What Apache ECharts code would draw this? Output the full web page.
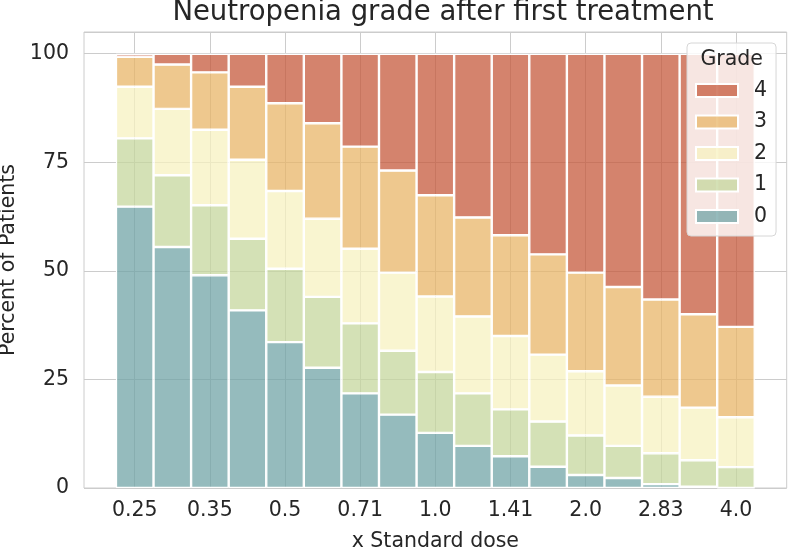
<!DOCTYPE html>
<html>
<head>
<meta charset="utf-8">
<script src="https://cdn.jsdelivr.net/npm/echarts@6/dist/echarts.min.js"></script>
<style>html,body{margin:0;padding:0;background:#fff}#c{width:788px;height:548px}</style>
</head>
<body>
<div id="c"></div>
<script>
// dose bins (x Standard dose)
const categories = ['0.25','0.3','0.35','0.42','0.5','0.59','0.71','0.84','1.0','1.19','1.41','1.68','2.0','2.38','2.83','3.36','4.0'];
const tickLabels = ['0.25','0.35','0.5','0.71','1.0','1.41','2.0','2.83','4.0'];
const grades = ['0','1','2','3','4'];
// percent of patients per grade in each bin
const grade0 = [64.8,55.5,49.0,40.9,33.6,27.7,21.8,16.9,12.7,9.7,7.3,4.9,3.0,2.3,0.9,0.3,0];
const grade1 = [15.7,16.5,16.1,16.5,16.9,16.3,16.1,14.7,14.0,12.1,10.8,10.4,9.1,7.4,7.1,6.1,4.8];
const grade2 = [11.9,15.3,17.4,18.2,17.9,18.0,17.2,18.0,17.4,17.7,16.9,15.4,14.8,13.9,13.0,12.1,11.5];
const grade3 = [6.9,10.2,13.2,16.8,20.2,22.0,23.5,23.5,23.3,22.8,23.2,23.1,22.7,22.7,22.4,21.5,20.8];
const grade4 = [0.7,2.5,4.3,7.6,11.4,16.0,21.4,26.9,32.6,37.7,41.8,46.2,50.4,53.7,56.6,60.0,62.9];

const gradeData = [grade0, grade1, grade2, grade3, grade4];
const colors = ['rgba(114,164,167,0.75)','rgba(198,215,158,0.75)','rgba(247,242,192,0.75)','rgba(232,182,104,0.75)','rgba(198,90,60,0.75)'];
const tickPositions = tickLabels.map(t => categories.indexOf(t));
const FONT = 'DejaVu Sans';
const TXT = '#262626';
const FS = 20.5;

const chart = echarts.init(document.getElementById('c'));
chart.setOption({
  animation: false,
  textStyle: {fontFamily: FONT},
  title: {
    text: 'Neutropenia grade after first treatment',
    left: 438, textAlign: 'center', top: -6,
    textStyle: {fontFamily: FONT, fontSize: 27.5, fontWeight: 'normal', color: TXT}
  },
  grid: {left: 84, top: 32, right: 1.3, bottom: 60, outerBoundsMode: 'none', containLabel: false,
    show: true, borderColor: '#cccccc', borderWidth: 1, backgroundColor: 'transparent'},
  xAxis: {
    type: 'value', min: -1.35, max: 17.35,
    name: 'x Standard dose', nameLocation: 'middle', nameGap: 43,
    nameTextStyle: {fontFamily: FONT, fontSize: FS, color: TXT},
    axisLine: {show: false},
    axisTick: {show: false, customValues: tickPositions},
    axisLabel: {customValues: tickPositions, margin: 12, fontFamily: FONT, fontSize: FS, color: TXT,
      formatter: v => categories[Math.round(v)]},
    splitLine: {show: true, lineStyle: {color: '#cccccc', width: 1}}
  },
  yAxis: {
    type: 'value', min: 0, max: 105, interval: 25,
    name: 'Percent of Patients', nameLocation: 'middle', nameGap: 62,
    nameTextStyle: {fontFamily: FONT, fontSize: FS, color: TXT},
    axisLine: {show: false}, axisTick: {show: false},
    axisLabel: {showMaxLabel: false, margin: 15, fontFamily: FONT, fontSize: FS, color: TXT},
    splitLine: {show: true, lineStyle: {color: '#cccccc', width: 1}}
  },
  legend: {
    orient: 'vertical', left: 687, top: 43,
    data: ['4','3','2','1','0'],
    itemWidth: 42, itemHeight: 13, itemGap: 10.5, icon: 'rect',
    padding: [37, 9, 9, 8],
    backgroundColor: 'rgba(255,255,255,0.8)', borderColor: '#d6d6d6', borderWidth: 1, borderRadius: 4,
    textStyle: {fontFamily: FONT, fontSize: FS, color: TXT, padding: [0, 0, 0, 11]}
  },
  graphic: [{
    type: 'text', z: 100, x: 731.7, y: 60,
    style: {text: 'Grade', fontFamily: FONT, fontSize: FS, fill: TXT, align: 'center', verticalAlign: 'middle'}
  }],
  series: grades.map((g, k) => ({
    name: g, type: 'bar', stack: 'total', barWidth: 37.6,
    dimensions: ['pct', 'bin'],
    encode: {x: 'bin', y: 'pct'},
    itemStyle: {color: colors[k], borderColor: '#ffffff', borderWidth: 1.2},
    data: gradeData[k].map((v, i) => [v, i])
  }))
});
</script>
</body>
</html>
